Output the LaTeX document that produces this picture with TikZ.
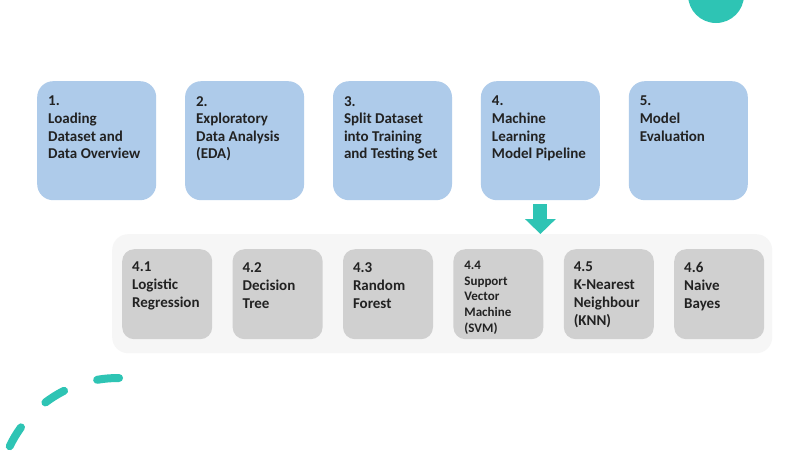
\documentclass[tikz,border=0pt]{standalone}
\usepackage{fontspec}
\setmainfont{Carlito}
\usetikzlibrary{positioning,arrows.meta}

\definecolor{stageblue}{HTML}{AECBEA}
\definecolor{algogray}{HTML}{D0D0D0}
\definecolor{panelgray}{HTML}{F6F6F6}
\definecolor{accent}{HTML}{2EC4B4}
\definecolor{inktext}{HTML}{222222}

\begin{document}
\begin{tikzpicture}[x=1pt, y=-1pt, node distance=28.5pt,
        stage/.style={rectangle, rounded corners=16pt, fill=stageblue, minimum width=119pt, minimum height=119pt, inner sep=0pt},
        algo/.style={rectangle, rounded corners=12pt, fill=algogray, minimum width=90pt, minimum height=90pt, inner sep=0pt},
        lbl/.style={anchor=north west, inner sep=0pt, align=left, text=inktext, font=\bfseries\fontsize{15}{17.6}\selectfont}]
                \useasboundingbox (0,0) rectangle (800,450);
                \clip (0,0) rectangle (800,450);
                \fill[white] (0,0) rectangle (800,450);

                % decorations
                \fill[accent] (716,-5) circle[radius=28pt];
                \draw[accent, line width=8pt, line cap=round, dash pattern=on 22pt off 35pt]
                    (118,498) ++(89.5:120pt) arc[start angle=89.5, end angle=170, radius=120pt];

                % main stages
                \node[stage, anchor=north west] (s1) at (37,81) {};
                \node[stage, right=of s1] (s2) {};
                \node[stage, right=of s2] (s3) {};
                \node[stage, right=of s3] (s4) {};
                \node[stage, right=of s4] (s5) {};

                \node[lbl] (s1t) at ([xshift=11pt, yshift=-15pt]s1.north west) {1.\\Loading\\Dataset and\\Data Overview};
                \node[lbl] (s2t) at ([xshift=11pt, yshift=-15pt]s2.north west) {2.\\Exploratory\\Data Analysis\\(EDA)};
                \node[lbl] (s3t) at ([xshift=11pt, yshift=-15pt]s3.north west) {3.\\Split Dataset\\into Training\\and Testing Set};
                \node[lbl] (s4t) at ([xshift=11pt, yshift=-15pt]s4.north west) {4.\\Machine\\Learning\\Model Pipeline};
                \node[lbl] (s5t) at ([xshift=11pt, yshift=-15pt]s5.north west) {5.\\Model\\Evaluation};

                % models
                \node[rectangle, rounded corners=16pt, fill=panelgray, minimum width=660pt, minimum height=119pt, anchor=north west] (pane) at (112,234) {};

                \node[algo, anchor=north west] (a1) at (122,249) {};
                \node[algo, right=20pt of a1] (a2) {};
                \node[algo, right=20pt of a2] (a3) {};
                \node[algo, right=20pt of a3] (a4) {};
                \node[algo, right=20pt of a4] (a5) {};
                \node[algo, right=20pt of a5] (a6) {};

                \node[lbl, font=\bfseries\fontsize{15}{18}\selectfont] (a1t) at ([xshift=10pt, yshift=-13pt]a1.north west) {4.1\\Logistic\\Regression};
                \node[lbl, font=\bfseries\fontsize{15}{18}\selectfont] (a2t) at ([xshift=10pt, yshift=-13pt]a2.north west) {4.2\\Decision\\Tree};
                \node[lbl, font=\bfseries\fontsize{15}{18}\selectfont] (a3t) at ([xshift=10pt, yshift=-13pt]a3.north west) {4.3\\Random\\Forest};
                \node[lbl, font=\bfseries\fontsize{13}{15.6}\selectfont] (a4t) at ([xshift=11pt, yshift=-12pt]a4.north west) {4.4\\Support\\Vector\\Machine\\(SVM)};
                \node[lbl, font=\bfseries\fontsize{15}{18}\selectfont] (a5t) at ([xshift=10pt, yshift=-13pt]a5.north west) {4.5\\K-Nearest\\Neighbour\\(KNN)};
                \node[lbl, font=\bfseries\fontsize{15}{18}\selectfont] (a6t) at ([xshift=10pt, yshift=-13pt]a6.north west) {4.6\\Naive\\Bayes};

                \draw[accent, line width=14pt, -{Triangle[width=30pt, length=15pt]}, shorten <=4pt]
                    (s4.south) -- (s4.south |- pane.north);
            \end{tikzpicture}
\end{document}
